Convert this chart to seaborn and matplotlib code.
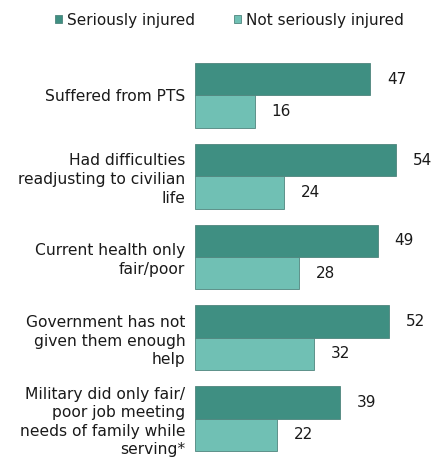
import matplotlib
matplotlib.use("Agg")
import matplotlib.pyplot as plt
import seaborn as sns
import pandas as pd

categories = [
    "Suffered from PTS",
    "Had difficulties\nreadjusting to civilian\nlife",
    "Current health only\nfair/poor",
    "Government has not\ngiven them enough\nhelp",
    "Military did only fair/\npoor job meeting\nneeds of family while\nserving*",
]
seriously_injured = [47, 54, 49, 52, 39]
not_seriously_injured = [16, 24, 28, 32, 22]
groups = ["Seriously injured", "Not seriously injured"]
colors = ["#3f8f82", "#70c0b4"]

df = pd.DataFrame({
    "category": categories * 2,
    "group": [groups[0]] * len(categories) + [groups[1]] * len(categories),
    "value": seriously_injured + not_seriously_injured,
})

sns.set_theme(style="white")
plt.rcParams["font.family"] = ["DejaVu Sans"]

fig = plt.figure(figsize=(4.41, 4.62), dpi=100)
ax = fig.add_axes([195 / 441, 3 / 462, 246 / 441, 404 / 462])

sns.barplot(data=df, y="category", x="value", hue="group", order=categories,
            hue_order=groups, palette=colors, saturation=1, orient="h",
            width=0.8, edgecolor="#4f857d", linewidth=0.6, ax=ax)

ax.set_xlim(0, 66)
ax.set_ylim(4.5, -0.5)
ax.set_xlabel("")
ax.set_ylabel("")
ax.set_xticks([])
for s in ax.spines.values():
    s.set_visible(False)
ax.tick_params(axis="y", length=0, pad=7, labelsize=11.2, labelcolor="#1a1a1a")
for t in ax.get_yticklabels():
    t.set_linespacing(1.3)

for cont in ax.containers:
    ax.bar_label(cont, labels=[f"{v:.0f}" for v in cont.datavalues],
                 padding=12, fontsize=11, color="#1a1a1a")

handles, labels = ax.get_legend_handles_labels()
ax.legend_.remove()
fig.legend(handles, labels, loc="center", bbox_to_anchor=(0.52, 1 - 20 / 462),
           ncol=2, frameon=False, fontsize=11, handlelength=0.45,
           handleheight=0.45, handletextpad=0.3, columnspacing=2.6,
           labelcolor="#1a1a1a")

fig.savefig("out.png", dpi=100, facecolor="white")
